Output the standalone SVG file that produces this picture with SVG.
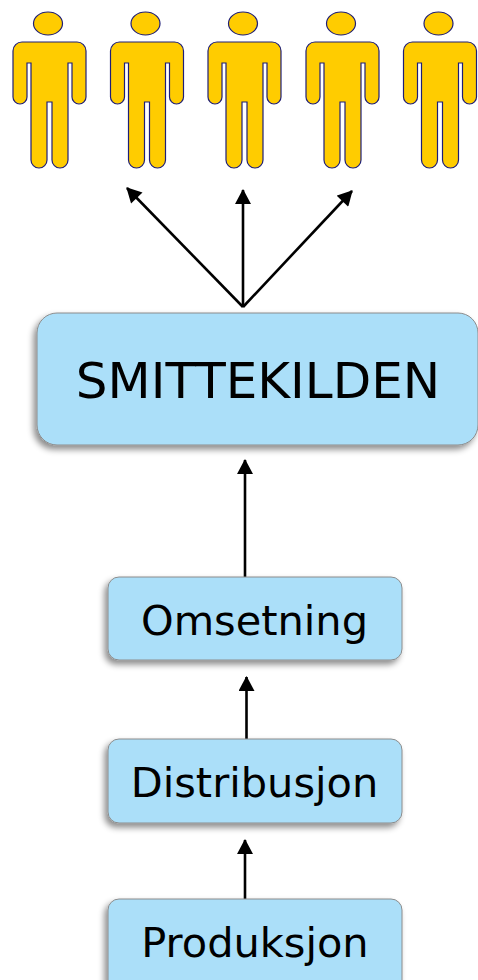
<svg xmlns="http://www.w3.org/2000/svg" xmlns:xlink="http://www.w3.org/1999/xlink" width="478" height="980" viewBox="0 0 478 980">
<style>
.box{fill:#abdff9;stroke:#8c8c8c;stroke-width:1;filter:url(#sh)}
.lbl{font-family:"DejaVu Sans",Verdana,sans-serif;fill:#000;text-anchor:middle}
.fig{fill:#ffcc00;stroke:#1e1e78;stroke-width:1.2}
.arr{stroke:#000;stroke-width:2.6;fill:none;marker-end:url(#ah)}
</style>
<defs>
<filter id="sh" x="-10%" y="-10%" width="120%" height="130%">
<feDropShadow dx="-3" dy="4" stdDeviation="3" flood-color="#000" flood-opacity="0.45"/>
</filter>
<marker id="ah" markerUnits="userSpaceOnUse" markerWidth="16" markerHeight="16" viewBox="0 0 15 16" refX="14" refY="8" orient="auto">
<path d="M0,0 L15,8 L0,16 Z" fill="#000"/>
</marker>
<g id="person">
<ellipse class="fig" cx="-1.5" cy="23.5" rx="14.5" ry="11.5"/>
<path class="fig" d="M -27.5 42 H 27.5 A 9 9 0 0 1 36.5 51 V 97 A 7 7 0 0 1 22.5 97 V 63 H 18.5 V 160 A 8 8 0 0 1 2.5 160 V 102 H -2.5 V 160 A 8 8 0 0 1 -18.5 160 V 63 H -22.5 V 97 A 7 7 0 0 1 -36.5 97 V 51 A 9 9 0 0 1 -27.5 42 Z"/>
</g>
</defs>
<rect width="478" height="980" fill="#fff"/>
<g id="person1" transform="translate(49.5,0)"><use xlink:href="#person" href="#person"/></g>
<g id="person2" transform="translate(147,0)"><use xlink:href="#person" href="#person"/></g>
<g id="person3" transform="translate(244.5,0)"><use xlink:href="#person" href="#person"/></g>
<g id="person4" transform="translate(342.5,0)"><use xlink:href="#person" href="#person"/></g>
<g id="person5" transform="translate(440,0)"><use xlink:href="#person" href="#person"/></g>
<g id="connectors">
<line class="arr" x1="243" y1="307" x2="127" y2="188"/>
<line class="arr" x1="243" y1="307" x2="243" y2="190"/>
<line class="arr" x1="243" y1="307" x2="352" y2="191"/>
<line class="arr" x1="245" y1="577" x2="245" y2="460"/>
<line class="arr" x1="246.5" y1="739" x2="246.5" y2="677"/>
<line class="arr" x1="245" y1="899" x2="245" y2="840"/>
</g>
<g id="smittekilden">
<rect class="box" x="37" y="313" width="441" height="132" rx="20"/>
<text class="lbl" x="258" y="398" font-size="50">SMITTEKILDEN</text>
</g>
<g id="omsetning">
<rect class="box" x="108" y="577" width="294" height="83" rx="11"/>
<text class="lbl" x="254.5" y="635" font-size="41.5">Omsetning</text>
</g>
<g id="distribusjon">
<rect class="box" x="108" y="739" width="294" height="84" rx="11"/>
<text class="lbl" x="254.5" y="797" font-size="41.5">Distribusjon</text>
</g>
<g id="produksjon">
<rect class="box" x="108" y="899" width="294" height="92" rx="11"/>
<text class="lbl" x="255" y="957" font-size="41.5">Produksjon</text>
</g>
</svg>
